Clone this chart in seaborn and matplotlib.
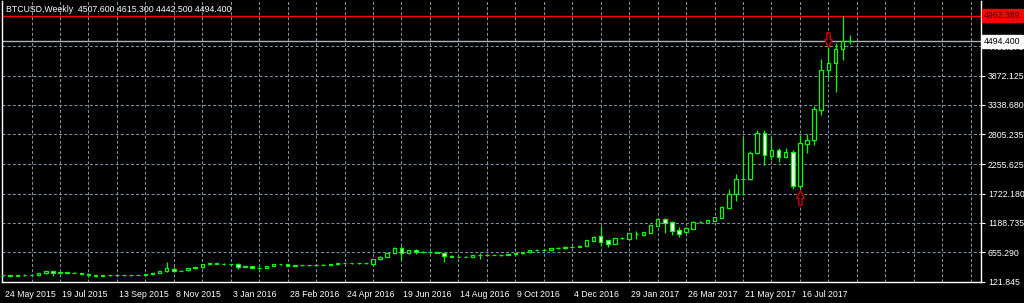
import numpy as np
import matplotlib
matplotlib.use("Agg")
import matplotlib.pyplot as plt
import matplotlib.transforms as mtransforms
from matplotlib.path import Path
import seaborn as sns

# ---------------- data ----------------
title_text = "BTCUSD,Weekly  4507.600 4615.300 4442.500 4494.400"

opens = [237, 232, 226, 232, 245, 248, 268, 305, 272, 290,
         285, 278, 262, 232, 228, 232, 236, 232, 234, 238,
         245, 258, 278, 318, 352, 316, 325, 362, 380, 440,
         452, 440, 434, 440, 392, 404, 374, 374, 404, 434,
         440, 412, 416, 418, 420, 422, 428, 434, 452, 455,
         452, 452, 434, 525, 574, 635, 726, 635, 690, 653,
         665, 660, 635, 590, 574, 574, 574, 604, 608, 604,
         606, 604, 617, 635, 659, 695, 696, 698, 726, 728,
         756, 758, 775, 865, 955, 872, 805, 912, 902, 990,
         960, 1011, 1135, 1254, 1205, 1060, 1029, 1078, 1205, 1193,
         1230, 1278, 1466, 1709, 1982, 1982, 2456, 2820, 2413, 2517,
         2383, 2487, 1861, 2626, 2699, 3245, 3973, 4095, 4350, 4507.6]
highs = [241, 234, 234, 252, 250, 270, 315, 318, 296, 297,
         290, 281, 268, 236, 236, 245, 244, 238, 241, 248,
         262, 285, 322, 472, 390, 332, 365, 395, 445, 465,
         465, 455, 448, 452, 412, 412, 385, 412, 440, 446,
         444, 422, 422, 426, 428, 432, 440, 455, 468, 460,
         458, 462, 530, 580, 640, 745, 770, 700, 705, 680,
         678, 668, 640, 598, 590, 585, 612, 650, 615, 612,
         610, 620, 640, 660, 700, 720, 715, 735, 745, 760,
         770, 780, 880, 945, 1135, 880, 920, 925, 1005, 1040,
         1030, 1160, 1265, 1275, 1225, 1120, 1110, 1220, 1228, 1240,
         1295, 1500, 1812, 2079, 2759, 2504, 2881, 2890, 2759, 2547,
         2550, 2520, 2790, 2808, 3318, 4167, 4460, 4459, 4962.389, 4615.3]
lows = [228, 222, 221, 230, 239, 246, 262, 220, 268, 280,
        274, 260, 205, 205, 222, 226, 227, 226, 229, 234,
        238, 252, 272, 300, 300, 305, 318, 355, 375, 430,
        432, 425, 418, 350, 378, 368, 364, 370, 400, 426,
        402, 405, 408, 410, 413, 416, 420, 428, 446, 446,
        442, 448, 430, 520, 565, 630, 520, 620, 630, 640,
        645, 640, 480, 562, 565, 560, 565, 540, 598, 596,
        590, 598, 610, 625, 650, 680, 688, 694, 715, 722,
        748, 752, 768, 858, 765, 755, 800, 898, 898, 905,
        955, 1005, 1130, 1010, 965, 940, 1010, 1070, 1185, 1188,
        1222, 1270, 1460, 1594, 1697, 1975, 2440, 2243, 2334, 2304,
        2365, 1800, 1830, 2456, 2607, 3154, 3822, 3578, 4155, 4442.5]
closes = [232, 226, 232, 245, 248, 268, 305, 272, 290, 285,
          278, 265, 232, 228, 232, 236, 232, 234, 238, 245,
          258, 280, 318, 362, 310, 322, 360, 392, 440, 452,
          440, 434, 440, 392, 404, 374, 374, 410, 434, 440,
          410, 416, 418, 420, 422, 428, 434, 452, 455, 452,
          452, 455, 525, 574, 635, 738, 647, 695, 653, 665,
          663, 647, 592, 574, 574, 572, 604, 610, 604, 606,
          604, 617, 635, 653, 695, 696, 698, 726, 728, 756,
          758, 775, 878, 935, 848, 812, 914, 908, 1000, 985,
          1021, 1151, 1254, 1193, 1047, 987, 1090, 1211, 1205, 1236,
          1290, 1485, 1709, 1982, 1990, 2456, 2820, 2419, 2517, 2395,
          2487, 1861, 2638, 2699, 3257, 3973, 4095, 4350, 4507.6, 4494.4]

date_labels = ["24 May 2015", "19 Jul 2015", "13 Sep 2015", "8 Nov 2015",
               "3 Jan 2016", "28 Feb 2016", "24 Apr 2016", "19 Jun 2016",
               "14 Aug 2016", "9 Oct 2016", "4 Dec 2016", "29 Jan 2017",
               "26 Mar 2017", "21 May 2017", "16 Jul 2017"]
bars_per_label = 8
bars_per_vgrid = 4

price_ticks = [121.845, 655.290, 1188.735, 1722.180, 2255.625,
               2805.235, 3338.680, 3872.125, 4405.570]
alert_level = 4962.389
last_price = 4494.400
sell_arrow_bar, sell_arrow_price = 116, 4520
buy_arrow_bar, buy_arrow_price = 112, 1652

# ---------------- style ----------------
sns.set_theme(style="dark", rc={
    "axes.facecolor": "black", "figure.facecolor": "black",
    "axes.edgecolor": "white", "text.color": "white",
    "xtick.color": "white", "ytick.color": "white",
    "lines.scale_dashes": False,
})
plt.rcParams["font.family"] = ["Liberation Sans", "DejaVu Sans"]

LIME = "#00ff00"
GRID = "#7f8fa0"
FS = 6.3

W, H = 1024, 303
fig = plt.figure(figsize=(W / 100, H / 100), dpi=100)
ax = fig.add_axes([2 / W, 21 / H, 979 / W, 281 / H])
ax.set_facecolor("black")

n = len(opens)
idx = np.arange(n)
o = np.array(opens, float)
c = np.array(closes, float)
hi = np.array(highs, float)
lo = np.array(lows, float)

ax.set_xlim(-0.15, 137.45)
ax.set_ylim(113, 5230)

# grid
for p in price_ticks:
    ax.axhline(p, color=GRID, lw=0.75, dashes=(2.2, 1.5), zorder=1)
for gx in range(bars_per_vgrid, 138, bars_per_vgrid):
    ax.axvline(gx, color=GRID, lw=0.75, dashes=(2.2, 1.5), zorder=1)

# level lines
ax.axhline(alert_level, color="#ff0000", lw=1.0, zorder=2)
ax.axhline(last_price, color="#a9b4c0", lw=1.0, zorder=2)

# candles
ax.vlines(idx, lo, hi, color=LIME, lw=0.9, zorder=3)
bottoms = np.minimum(o, c)
heights = np.maximum(np.abs(c - o), 1.0)
faces = ["black" if cc >= oo else "white" for oo, cc in zip(o, c)]
ax.bar(idx, heights, bottom=bottoms, width=0.5, color=faces,
       edgecolor=LIME, linewidth=0.9, zorder=4)

# arrows
down_path = Path([(-0.22, 1.0), (0.22, 1.0), (0.22, 0.1), (0.5, 0.1), (0.0, -0.9),
                  (-0.5, 0.1), (-0.22, 0.1), (-0.22, 1.0)],
                 [Path.MOVETO] + [Path.LINETO] * 6 + [Path.CLOSEPOLY])
up_path = Path([(x, -y) for x, y in down_path.vertices], down_path.codes)
ax.plot([sell_arrow_bar], [sell_arrow_price], marker=down_path, ms=11,
        mfc="black", mec="#d00000", mew=1.0, ls="none", zorder=6)
ax.plot([buy_arrow_bar], [buy_arrow_price], marker=up_path, ms=11,
        mfc="black", mec="#d00000", mew=1.0, ls="none", zorder=6)

# spines
ax.spines["top"].set_visible(False)
for s in ["left", "right", "bottom"]:
    ax.spines[s].set_color("white")
    ax.spines[s].set_linewidth(1.0)

# y axis on right
ax.yaxis.tick_right()
ax.set_yticks(price_ticks)
ax.set_yticklabels([f"{p:.3f}" for p in price_ticks], fontsize=FS)
ax.tick_params(axis="y", length=3, width=0.8, pad=2, colors="white")

# x axis date labels
label_bars = [i * bars_per_label for i in range(len(date_labels))]
ax.set_xticks(label_bars)
ax.set_xticklabels(date_labels, fontsize=FS)
ax.tick_params(axis="x", length=4, width=0.8, pad=2, colors="white")
off = mtransforms.ScaledTranslation(2 / 100, 0, fig.dpi_scale_trans)
for lab in ax.get_xticklabels():
    lab.set_ha("left")
    lab.set_transform(lab.get_transform() + off)
ax.grid(False)

# price boxes on the right
trans = mtransforms.blended_transform_factory(ax.transAxes, ax.transData)
ax.text(1.0 + 3 / 979, alert_level, f"{alert_level:.3f}", transform=trans,
        ha="left", va="center", fontsize=FS, color="#400000", zorder=10,
        clip_on=False,
        bbox=dict(boxstyle="square,pad=0.25", fc="#ff0000", ec="#ff0000"))
ax.text(1.0 + 3 / 979, last_price, f"{last_price:.3f}", transform=trans,
        ha="left", va="center", fontsize=FS, color="black", zorder=10,
        clip_on=False,
        bbox=dict(boxstyle="square,pad=0.25", fc="white", ec="white"))

# title
ax.text(4 / 979, 1 - 8 / 281, title_text, transform=ax.transAxes,
        ha="left", va="center", fontsize=FS, color="white", zorder=10)

fig.savefig("out.png", dpi=100, facecolor="black")
